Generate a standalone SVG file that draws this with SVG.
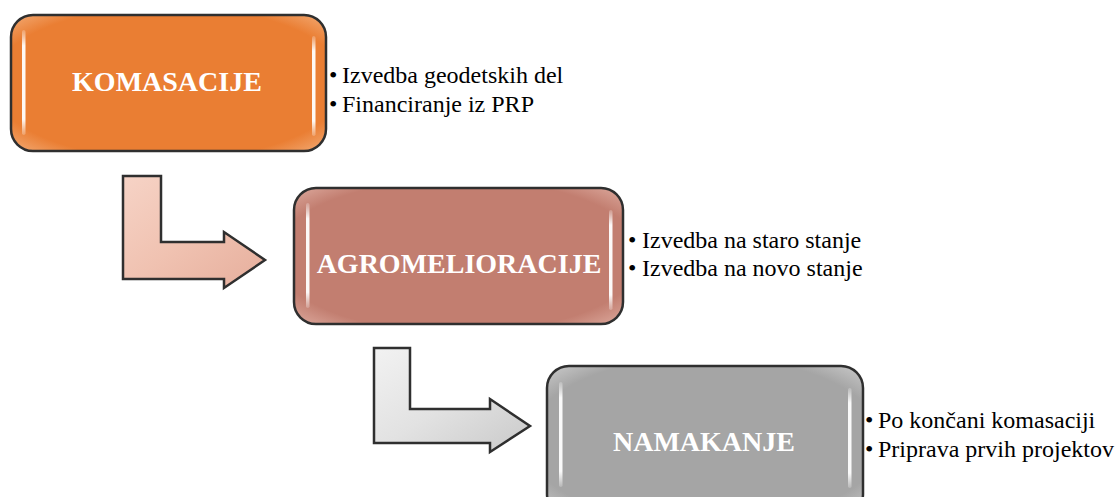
<svg xmlns="http://www.w3.org/2000/svg" width="1117" height="497" viewBox="0 0 1117 497">
<defs>
<style>
.box{stroke:#2f2f2f;stroke-width:2.5}
.title{font-family:"Liberation Serif",serif;font-weight:bold;font-size:28px;fill:#ffffff;text-anchor:middle}
.bul{font-family:"Liberation Serif",serif;font-size:24px;fill:#000000}
.arr{stroke:#2f2f2f;stroke-width:2.5;stroke-linejoin:miter}
.hl{fill:url(#hl)}
</style>
<linearGradient id="hl" x1="0" y1="0" x2="0" y2="1">
<stop offset="0" stop-color="#ffffff" stop-opacity="0.2"/>
<stop offset="0.15" stop-color="#ffffff" stop-opacity="0.95"/>
<stop offset="0.85" stop-color="#ffffff" stop-opacity="0.95"/>
<stop offset="1" stop-color="#ffffff" stop-opacity="0.2"/>
</linearGradient>
<radialGradient id="g1" cx="0.5" cy="0.5" r="0.75">
<stop offset="0.75" stop-color="#EA7E33"/>
<stop offset="1" stop-color="#F5B98A"/>
</radialGradient>
<radialGradient id="g2" cx="0.5" cy="0.5" r="0.75">
<stop offset="0.75" stop-color="#C27E70"/>
<stop offset="1" stop-color="#E5B7AC"/>
</radialGradient>
<radialGradient id="g3" cx="0.5" cy="0.5" r="0.75">
<stop offset="0.75" stop-color="#A5A5A5"/>
<stop offset="1" stop-color="#D6D6D6"/>
</radialGradient>
<linearGradient id="a1" x1="0" y1="0" x2="1" y2="1">
<stop offset="0" stop-color="#F6D3C6"/>
<stop offset="0.5" stop-color="#F0C2B1"/>
<stop offset="1" stop-color="#E6AE9C"/>
</linearGradient>
<linearGradient id="a2" x1="0" y1="0" x2="1" y2="1">
<stop offset="0" stop-color="#F2F2F2"/>
<stop offset="0.5" stop-color="#E2E2E2"/>
<stop offset="1" stop-color="#C9C9C9"/>
</linearGradient>
</defs>
<rect width="1117" height="497" fill="#ffffff"/>

<g id="connectors">
<path class="arr" fill="url(#a1)" d="M123,176 L161,176 L161,242 L224,242 L224,232 L265,260 L224,288 L224,279 L123,279 Z"/>
<path class="arr" fill="url(#a2)" d="M374,348 L410,348 L410,409 L490,409 L490,399 L530,426 L490,452 L490,443 L374,443 Z"/>
</g>

<g id="node-komasacije">
<rect class="box" x="11" y="15" width="315" height="136" rx="22" ry="22" fill="url(#g1)"/>
<rect class="hl" x="22" y="30" width="3.5" height="105" rx="1.7"/>
<rect class="hl" x="312" y="36" width="3.5" height="100" rx="1.7"/>
<text class="title" x="167" y="91">KOMASACIJE</text>
<text class="bul" x="329" y="83">•</text>
<text class="bul" x="342" y="83">Izvedba geodetskih del</text>
<text class="bul" x="329" y="112">•</text>
<text class="bul" x="342" y="112">Financiranje iz PRP</text>
</g>

<g id="node-agromelioracije">
<rect class="box" x="294" y="188" width="329" height="136" rx="22" ry="22" fill="url(#g2)"/>
<rect class="hl" x="306" y="203" width="3.5" height="105" rx="1.7"/>
<rect class="hl" x="609" y="210" width="3.5" height="100" rx="1.7"/>
<text class="title" x="459" y="273">AGROMELIORACIJE</text>
<text class="bul" x="628" y="248">•</text>
<text class="bul" x="642" y="248">Izvedba na staro stanje</text>
<text class="bul" x="628" y="276">•</text>
<text class="bul" x="642" y="276">Izvedba na novo stanje</text>
</g>

<g id="node-namakanje">
<rect class="box" x="547" y="366" width="316" height="150" rx="22" ry="22" fill="url(#g3)"/>
<rect class="hl" x="559" y="382" width="3.5" height="105" rx="1.7"/>
<rect class="hl" x="848" y="388" width="3.5" height="100" rx="1.7"/>
<text class="title" x="704" y="451">NAMAKANJE</text>
<text class="bul" x="865" y="428">•</text>
<text class="bul" x="878" y="428">Po končani komasaciji</text>
<text class="bul" x="865" y="457">•</text>
<text class="bul" x="878" y="457">Priprava prvih projektov</text>
</g>
</svg>
